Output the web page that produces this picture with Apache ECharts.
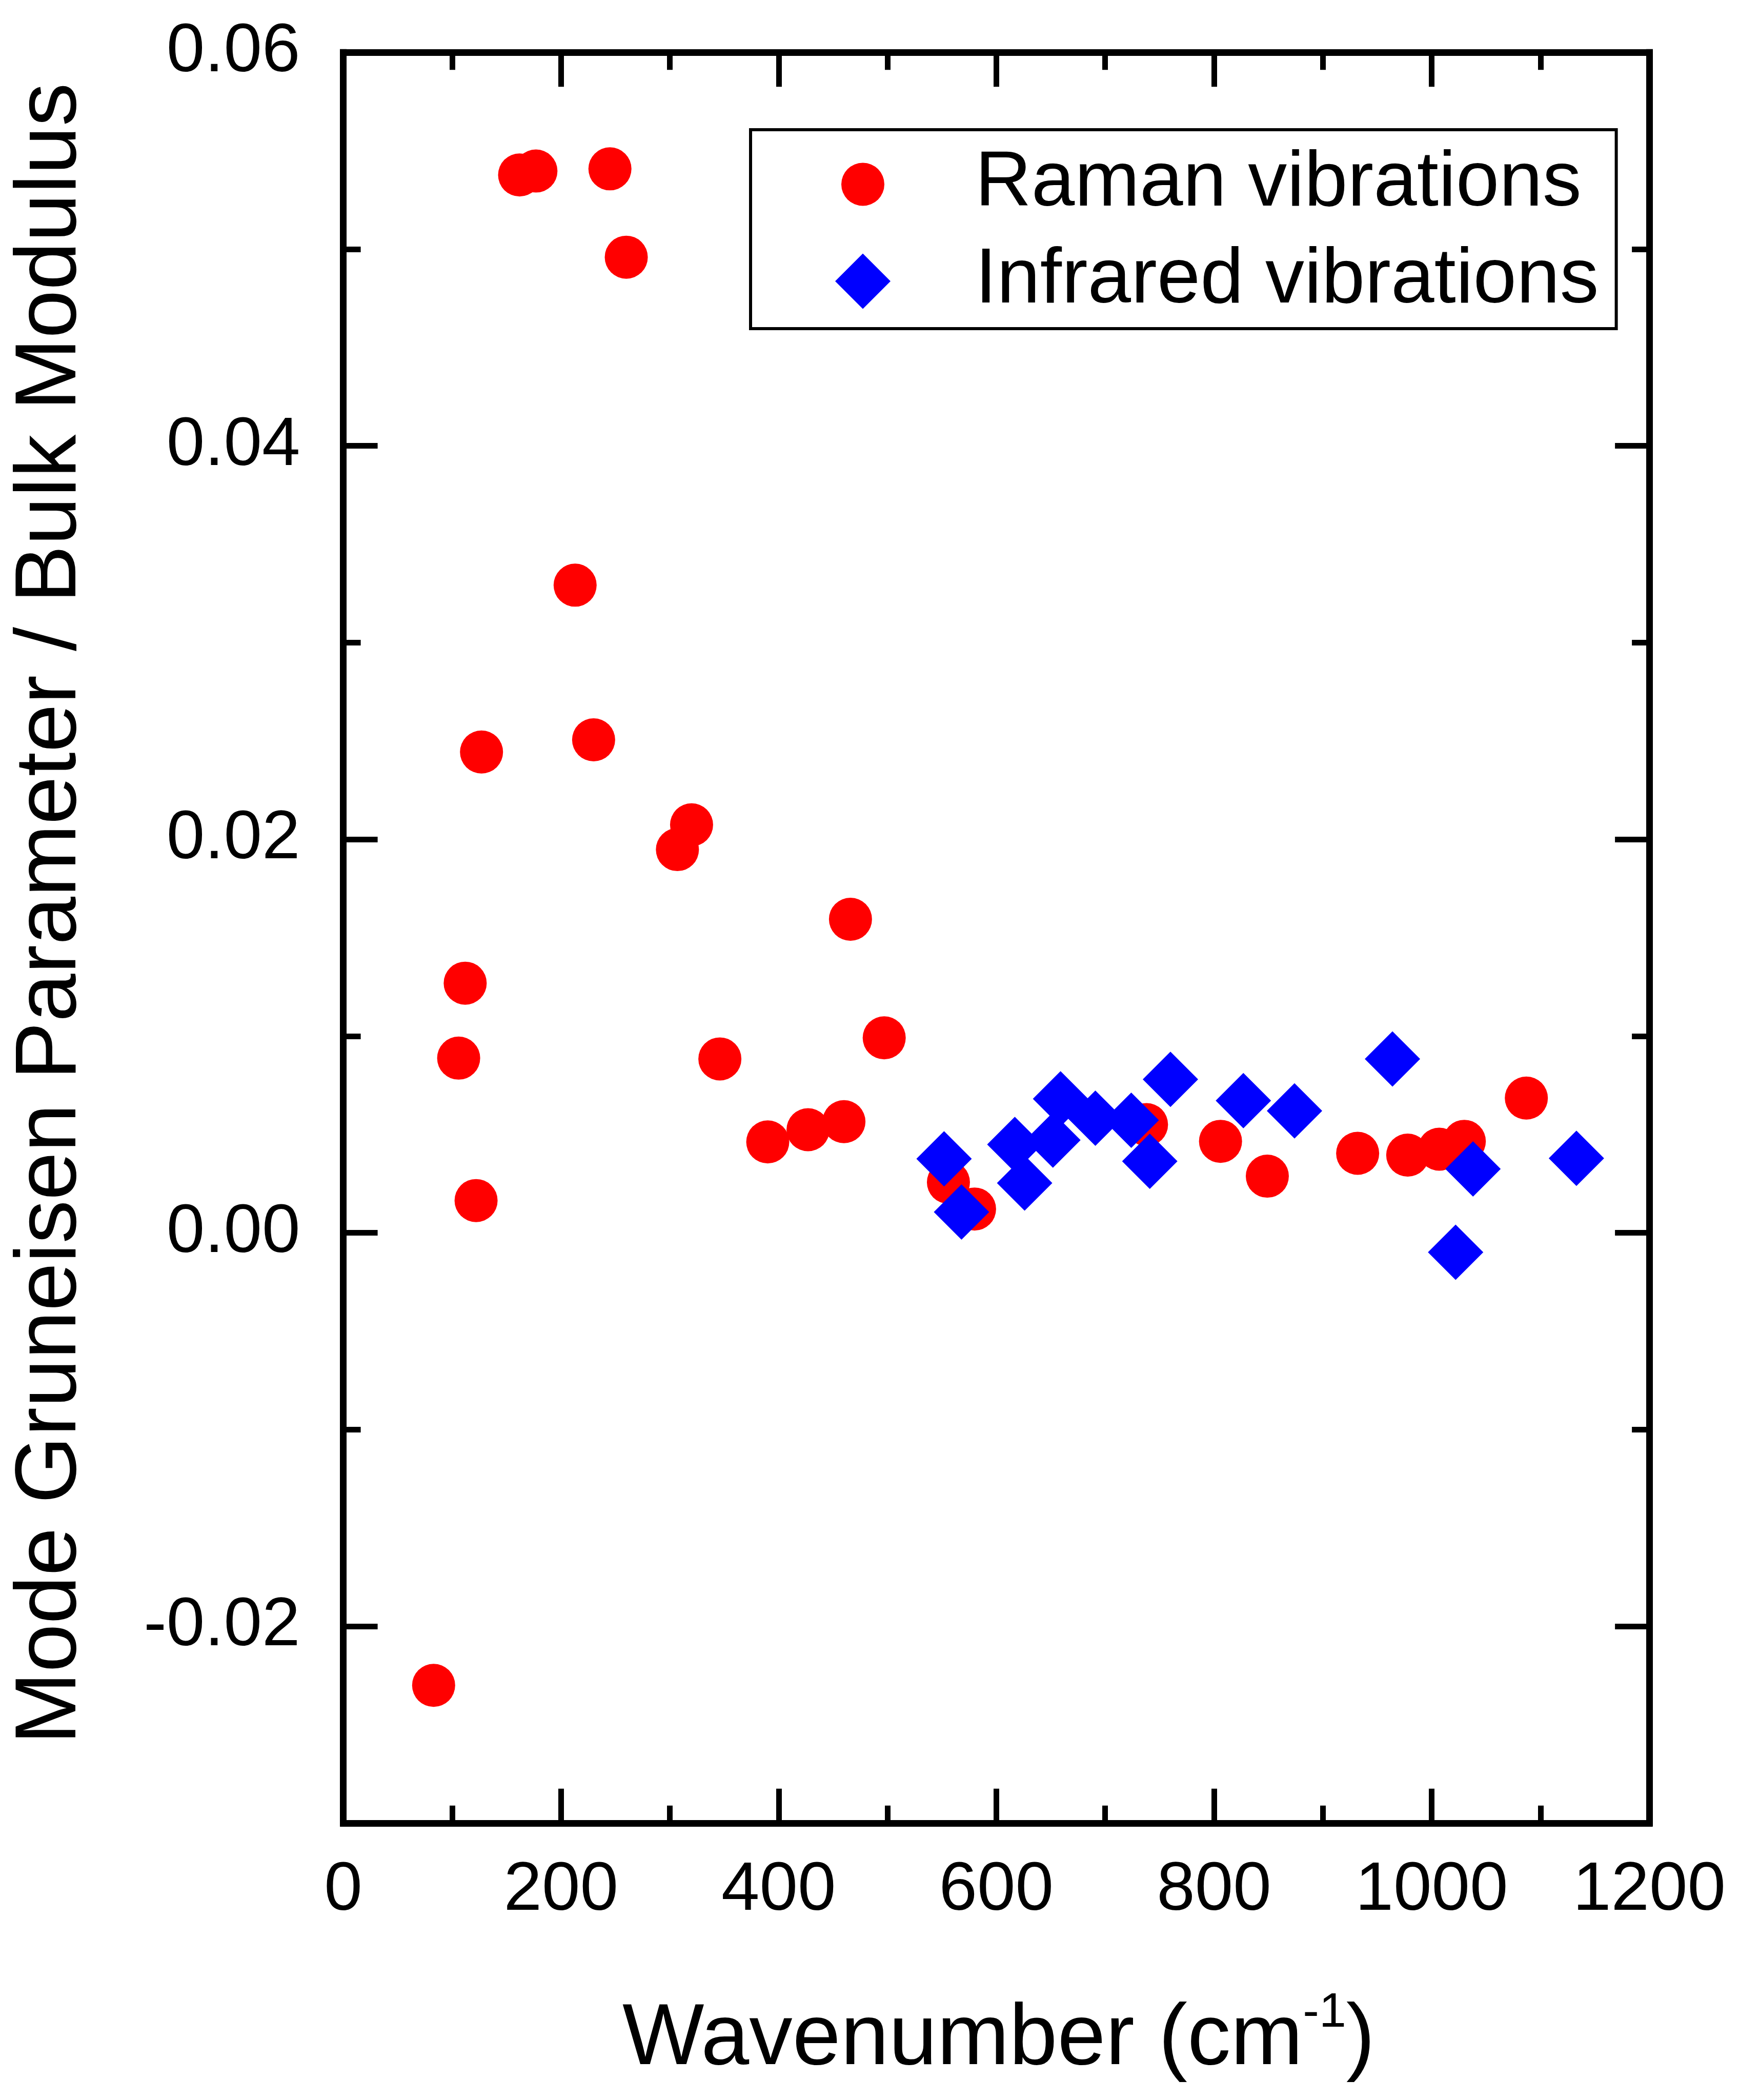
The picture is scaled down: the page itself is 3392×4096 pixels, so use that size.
<!DOCTYPE html>
<html>
<head>
<meta charset="utf-8">
<script src="https://cdn.jsdelivr.net/npm/echarts@6/dist/echarts.min.js"></script>
<style>
html,body{margin:0;padding:0;background:#ffffff;}
#chart{width:3392px;height:4096px;}
</style>
</head>
<body>
<div id="chart"></div>
<script>
// ---- data ----
const ramanX = [83, 106, 112, 122, 127, 162, 177, 213, 230, 245, 260, 307, 320, 346, 390, 427, 460, 466, 497, 556, 580, 738, 806, 849, 932, 978, 1007, 1030, 1087];
const ramanY = [-0.0230, 0.00888, 0.01269, 0.00164, 0.02444, 0.05377, 0.05397, 0.03292, 0.02506, 0.05408, 0.04959, 0.01948, 0.02074, 0.00884, 0.00462, 0.00524, 0.00565, 0.01594, 0.00991, 0.00257, 0.00121, 0.00550, 0.00465, 0.00288, 0.00404, 0.00395, 0.00425, 0.00465, 0.00685];
const irX = [552, 568, 617, 626, 652, 659, 691, 724, 741, 760, 827, 874, 964, 1022, 1038, 1133];
const irY = [0.00376, 0.00106, 0.00449, 0.00253, 0.00471, 0.00681, 0.00583, 0.00572, 0.00364, 0.00780, 0.00672, 0.00620, 0.00884, -0.00099, 0.00325, 0.00379];
const seriesNames = ['Raman vibrations', 'Infrared vibrations'];
const xTickLabels = ['0', '200', '400', '600', '800', '1000', '1200'];
const yTickLabels = ['0.06', '0.04', '0.02', '0.00', '-0.02'];
const xTitle = 'Wavenumber (cm';
const xTitleSup = '-1';
const yTitle = 'Mode Gruneisen Parameter / Bulk Modulus';

// ---- styling ----
const FONT = "'Liberation Sans', Arial, Helvetica, sans-serif";
const lineStyleAxis = { color: '#000', width: 13, cap: 'square' };
const tickStyle = { color: '#000', width: 11 };

function labelFrom(list) {
  return function (v) {
    const hit = list.find(l => Math.abs(parseFloat(l) - v) < 1e-9);
    return hit === undefined ? '' : hit;
  };
}

function makeX(pos, showLabel) {
  return {
    type: 'value', position: pos, min: 0, max: 1200, interval: 200,
    axisLine: { show: true, onZero: false, lineStyle: lineStyleAxis },
    axisTick: { show: true, inside: true, length: 67, lineStyle: tickStyle },
    minorTick: { show: true, splitNumber: 2, length: 34, lineStyle: tickStyle },
    axisLabel: { show: showLabel, margin: 65, fontSize: 134, color: '#000', fontFamily: FONT, formatter: labelFrom(xTickLabels) },
    splitLine: { show: false }, minorSplitLine: { show: false }
  };
}
function makeY(pos, showLabel) {
  return {
    type: 'value', position: pos, min: -0.03, max: 0.06, splitNumber: 5, minInterval: 0.02, maxInterval: 0.02,
    axisLine: { show: true, onZero: false, lineStyle: lineStyleAxis },
    axisTick: { show: true, inside: true, length: 67, lineStyle: tickStyle },
    minorTick: { show: true, splitNumber: 2, length: 34, lineStyle: tickStyle },
    axisLabel: { show: showLabel, margin: 84, fontSize: 134, color: '#000', fontFamily: FONT, padding: [0, 0, 22, 0], formatter: labelFrom(yTickLabels) },
    splitLine: { show: false }, minorSplitLine: { show: false }
  };
}

const chart = echarts.init(document.getElementById('chart'), null, { renderer: 'canvas' });
chart.setOption({
  animation: false,
  backgroundColor: '#ffffff',
  grid: { left: 669.6, right: 174.9, top: 102.2, bottom: 540.2, containLabel: false },
  xAxis: [makeX('bottom', true), makeX('top', false)],
  yAxis: [makeY('left', true), makeY('right', false)],
  legend: {
    orient: 'vertical', left: 1464, top: 253,
    padding: [30.5, 34, 16.5, 165],
    itemWidth: 268, itemHeight: 108, itemGap: 37,
    borderColor: '#000', borderWidth: 6,
    selectedMode: false,
    textStyle: { fontSize: 152, fontFamily: FONT, color: '#000' },
    data: [
      { name: seriesNames[0], icon: 'path://M0,0L0,0M268,108L268,108M96,54A42,42,0,1,1,12,54A42,42,0,1,1,96,54Z' },
      { name: seriesNames[1], icon: 'path://M0,0L0,0M268,108L268,108M54,0L108,54L54,108L0,54Z' }
    ]
  },
  series: [
    {
      type: 'scatter', name: seriesNames[0], xAxisIndex: 0, yAxisIndex: 0,
      symbol: 'circle', symbolSize: 84, z: 2,
      itemStyle: { color: '#ff0000', opacity: 1 },
      data: ramanX.map((x, i) => [x, ramanY[i]])
    },
    {
      type: 'scatter', name: seriesNames[1], xAxisIndex: 0, yAxisIndex: 0,
      symbol: 'diamond', symbolSize: 108, z: 3,
      itemStyle: { color: '#0000ff', opacity: 1 },
      data: irX.map((x, i) => [x, irY[i]])
    }
  ],
  graphic: [
    {
      type: 'text', x: 100, y: 1782, rotation: Math.PI / 2,
      style: { text: yTitle, fontSize: 169, fontFamily: FONT, fill: '#000', align: 'center', verticalAlign: 'middle' }
    },
    {
      type: 'text', x: 1948, y: 3879,
      style: {
        text: '{a|' + xTitle + '}{s|' + xTitleSup + '}{a|)}',
        align: 'center', verticalAlign: 'top',
        rich: {
          a: { fontSize: 169, fontFamily: FONT, lineHeight: 200, fill: '#000' },
          s: { fontSize: 95, fontFamily: FONT, lineHeight: 68, verticalAlign: 'top', fill: '#000' }
        }
      }
    }
  ]
});
</script>
</body>
</html>
